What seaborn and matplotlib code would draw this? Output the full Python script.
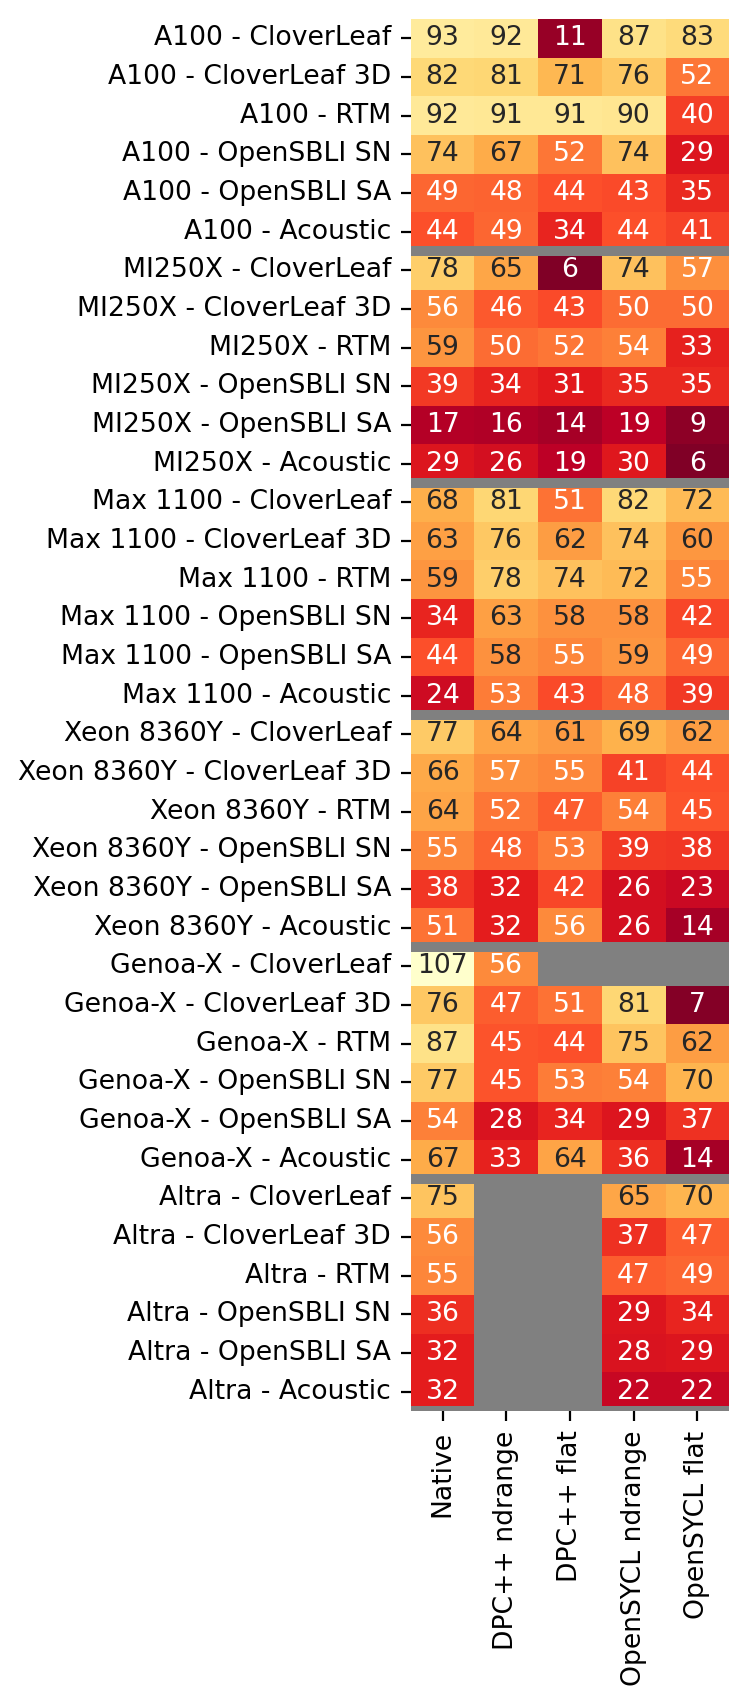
import numpy as np
import pandas as pd
import matplotlib
matplotlib.use("Agg")
import matplotlib.pyplot as plt
import seaborn as sns

# --- data ---
platforms = ["A100", "MI250X", "Max 1100", "Xeon 8360Y", "Genoa-X", "Altra"]
apps = ["CloverLeaf", "CloverLeaf 3D", "RTM", "OpenSBLI SN", "OpenSBLI SA", "Acoustic"]
variants = ["Native", "DPC++ ndrange", "DPC++ flat", "OpenSYCL ndrange", "OpenSYCL flat"]

native = [93, 82, 92, 74, 49, 44,
          78, 56, 59, 39, 17, 29,
          68, 63, 59, 34, 44, 24,
          77, 66, 64, 55, 38, 51,
          107, 76, 87, 77, 54, 67,
          75, 56, 55, 36, 32, 32]
dpcpp_ndrange = [92, 81, 91, 67, 48, 49,
                 65, 46, 50, 34, 16, 26,
                 81, 76, 78, 63, 58, 53,
                 64, 57, 52, 48, 32, 32,
                 56, 47, 45, 45, 28, 33,
                 np.nan, np.nan, np.nan, np.nan, np.nan, np.nan]
dpcpp_flat = [11, 71, 91, 52, 44, 34,
              6, 43, 52, 31, 14, 19,
              51, 62, 74, 58, 55, 43,
              61, 55, 47, 53, 42, 56,
              np.nan, 51, 44, 53, 34, 64,
              np.nan, np.nan, np.nan, np.nan, np.nan, np.nan]
opensycl_ndrange = [87, 76, 90, 74, 43, 44,
                    74, 50, 54, 35, 19, 30,
                    82, 74, 72, 58, 59, 48,
                    69, 41, 54, 39, 26, 26,
                    np.nan, 81, 75, 54, 29, 36,
                    65, 37, 47, 29, 28, 22]
opensycl_flat = [83, 52, 40, 29, 35, 41,
                 57, 50, 33, 35, 9, 6,
                 72, 60, 55, 42, 49, 39,
                 62, 44, 45, 38, 23, 14,
                 np.nan, 7, 62, 70, 37, 14,
                 70, 47, 49, 34, 29, 22]

row_labels = [f"{p} - {a}" for p in platforms for a in apps]
df = pd.DataFrame({
    "Native": native,
    "DPC++ ndrange": dpcpp_ndrange,
    "DPC++ flat": dpcpp_flat,
    "OpenSYCL ndrange": opensycl_ndrange,
    "OpenSYCL flat": opensycl_flat,
}, index=row_labels)[variants]

FS = 9.6

# --- plot ---
fig, ax = plt.subplots(figsize=(3.74, 8.525), dpi=200)
ax.set_facecolor("gray")
sns.heatmap(df, ax=ax, cmap="YlOrRd_r", annot=True, fmt=".0f", cbar=False,
            annot_kws={"fontsize": FS})

# separateurs entre plateformes
for i in range(1, len(platforms) + 1):
    ax.axhline(i * len(apps), color="gray", linewidth=3.6)

ax.set_yticks(np.arange(len(row_labels)) + 0.5)
ax.set_yticklabels(row_labels, rotation=0, fontsize=FS)
ax.set_xticklabels(variants, rotation=90, fontsize=FS)
ax.set_xlabel("")
ax.set_ylabel("")

plt.subplots_adjust(left=0.549, right=0.975, top=0.9889, bottom=0.1724)
plt.savefig("out.png", dpi=200)
